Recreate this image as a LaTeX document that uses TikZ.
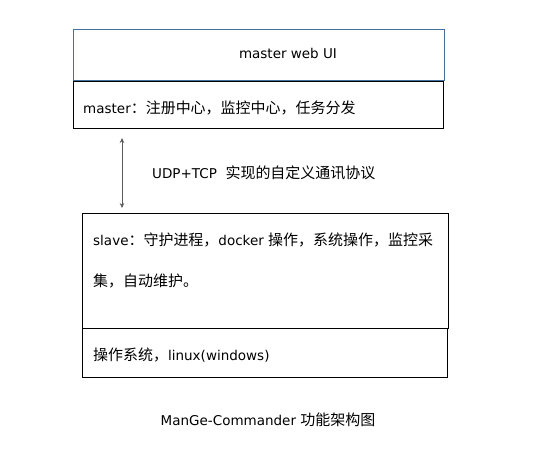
\documentclass[tikz,border=0pt]{standalone}
\usepackage{fontspec}
\setmainfont{DejaVu Sans}
\newfontfamily\cjk[Scale=1.11]{Noto Sans CJK SC}
\usetikzlibrary{positioning,arrows.meta}
\definecolor{uiblue}{RGB}{65,113,156}
\definecolor{shaft}{RGB}{90,90,90}

\begin{document}
\begin{tikzpicture}[x=1pt,y=-1pt,>={Stealth[length=5pt,width=4.5pt]},
  layer/.style={draw,line width=1pt,rectangle,inner sep=0pt,anchor=north west},
  txt/.style={anchor=west,inner sep=0pt,font=\fontsize{13.5}{15}\selectfont}]
\useasboundingbox (0,0) rectangle (533,470);
% master side
\node[layer,draw=uiblue,minimum width=371pt,minimum height=51pt] (webui) at (73,29) {};
\node[layer,minimum width=370pt,minimum height=47pt] (master) at (73,81) {};
\node[txt,anchor=center] (webuitxt) at (288,53) {master web UI};
\node[txt] (mastertxt) at (83,108) {master{\cjk ：注册中心，监控中心，任务分发}};
% protocol
\coordinate (up) at (122,138);
\coordinate (dn) at (122,208);
\draw[<->,shaft,line width=0.8pt] (up) -- (dn);
\node[txt] (proto) at (152,173) {UDP+TCP\ \ {\cjk 实现的自定义通讯协议}};
% slave side
\node[layer,minimum width=366pt,minimum height=115pt] (slave) at (82,213) {};
\node[layer,minimum width=365pt,minimum height=49pt] (os) at (82,328) {};
\node[txt] (slavetxt) at (93,240) {slave{\cjk ：守护进程，}docker {\cjk 操作，系统操作，监控采}};
\node[txt] (slavetxt2) at (93,281) {{\cjk 集，自动维护。}};
\node[txt] (ostxt) at (93,355) {{\cjk 操作系统，}linux(windows)};
% caption
\node[txt,anchor=center] (caption) at (268,420) {ManGe-Commander {\cjk 功能架构图}};
\end{tikzpicture}
\end{document}
